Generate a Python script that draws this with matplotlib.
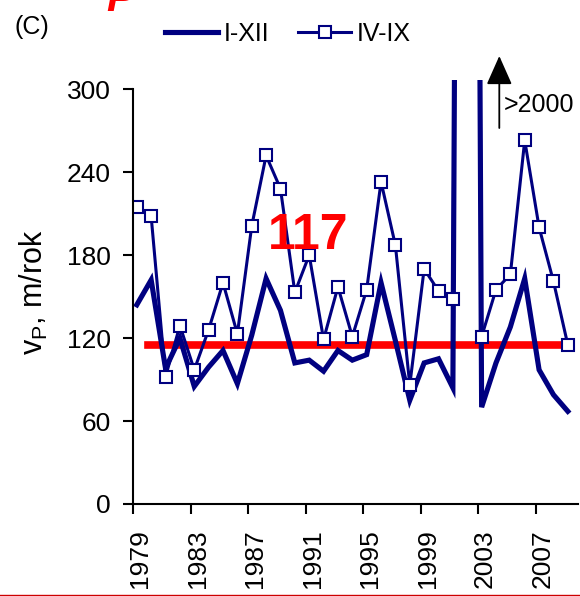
import numpy as np
import matplotlib.pyplot as plt
from matplotlib.lines import Line2D
from matplotlib.transforms import ScaledTranslation

plt.rcParams['font.family'] = ['Liberation Sans', 'DejaVu Sans']

# roczne wartosci vP (m/rok); 2002 poza skala (>2000)
years = np.arange(1979, 2010)
vp_year = [144, 162, 98, 120, 85, 99, 111, 87, 122, 163, 140, 102, 104, 96, 111, 104,
           108, 160, 118, 75, 102, 105, 84, 2150, 70, 102, 128, 163, 97, 79, 67]
vp_summer = [215, 208, 92, 129, 97, 126, 160, 123, 201, 252, 228, 153, 180, 119, 157, 121,
             155, 233, 187, 86, 170, 154, 148, 2050, 121, 155, 166, 263, 200, 161, 115]
mean_level = 115
mean_label = "117"
tick_years = [1979, 1983, 1987, 1991, 1995, 1999, 2003, 2007]
y_ticks = [0, 60, 120, 180, 240, 300]

navy = '#000080'
shift = 0.24  # punkty lekko przesuniete wzgledem kresek osi

fig = plt.figure(figsize=(5.8, 5.96), dpi=100)
ax = fig.add_axes([0.2299, 0.1544, 0.7667, 0.7114])

x = years + shift
ax.plot(x, vp_year, color=navy, lw=3.7, solid_joinstyle='miter', label='I-XII')
ax.plot(x, vp_summer, color=navy, lw=2.2, marker='s', ms=8.5, mfc='white',
        mec=navy, mew=1.5, label='IV-IX')
ax.plot([1980, 2009], [mean_level, mean_level], color='red', lw=5.5, zorder=1)

ax.text(1991.2, 194, mean_label, color='red', fontsize=36, fontweight='bold',
        ha='center', va='center')

ax.set_xlim(1979, 2009.95)
ax.set_ylim(0, 306.6)
ax.spines['left'].set_bounds(0, 300)
ax.spines['top'].set_visible(False)
ax.spines['right'].set_visible(False)
for s in ('left', 'bottom'):
    ax.spines[s].set_linewidth(1.5)

ax.set_yticks(y_ticks)
ax.set_xticks(tick_years)
ax.set_xticklabels([str(t) for t in tick_years], rotation=90, va='top')
ax.tick_params(direction='out', length=7, width=1.5, labelsize=19)
ax.tick_params(axis='y', pad=9)
ax.tick_params(axis='x', pad=11)
for lab in ax.get_xticklabels():
    lab.set_transform(lab.get_transform() + ScaledTranslation(5 / 72, 0, fig.dpi_scale_trans))

ax.set_ylabel('v$_\\mathregular{P}$, m/rok', fontsize=22)
ax.yaxis.set_label_coords(-0.187, 0.5)

# strzalka >2000
ax.annotate('', xy=(499.3 / 580, 1 - 56 / 596), xytext=(499.3 / 580, 1 - 128 / 596),
            xycoords='figure fraction', textcoords='figure fraction',
            arrowprops=dict(arrowstyle='-|>,head_width=0.32,head_length=0.72',
                            mutation_scale=25, color='black', lw=1.3,
                            shrinkA=0, shrinkB=0))
fig.text(504 / 580, 1 - 105 / 596, '>2000', fontsize=18, ha='left', va='center')

fig.legend(loc='center', bbox_to_anchor=(0.497, 1 - 34 / 596), ncol=2, frameon=False,
           fontsize=18, handlelength=2.1, handletextpad=0.25, columnspacing=1.15)

fig.text(15 / 580, 1 - 27 / 596, '(C)', fontsize=18, ha='left', va='center')
fig.text(106 / 580, 1 - 11 / 596, 'P', color='red', fontsize=30, fontweight='bold',
         fontstyle='italic', ha='left', va='baseline')
fig.add_artist(Line2D([0, 1], [1 - 595 / 596, 1 - 595 / 596], color='#cc0000', lw=1))

fig.savefig('out.png', dpi=100)
